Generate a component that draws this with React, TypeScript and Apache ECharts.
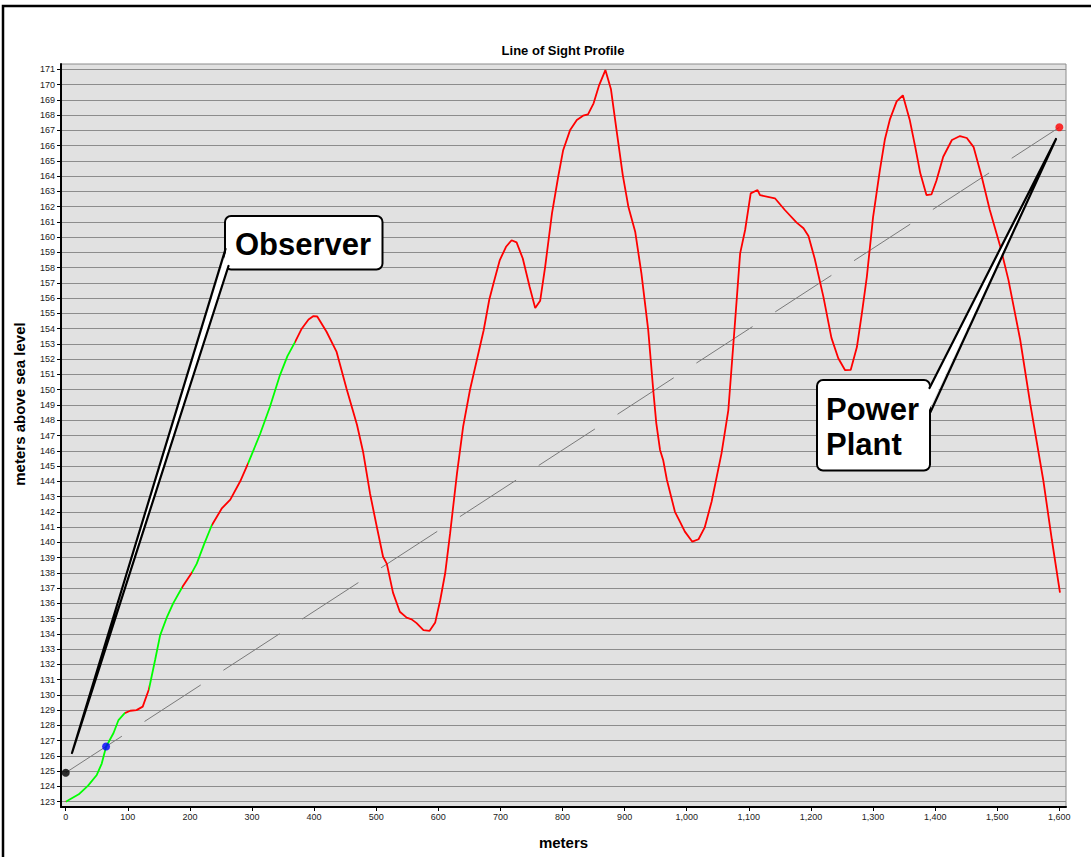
import React, { useEffect, useRef } from 'react';
import * as echarts from 'echarts';

// Terrain profile (distance in meters, elevation in meters above sea level)
const profileX = [
  0, 21, 36, 50, 58, 65, 77, 85, 95, 104, 114, 124, 134, 144, 152, 163, 173, 188, 203, 211, 223, 235,
  251, 265, 281, 294, 313, 329, 345, 357, 369, 380, 391, 399, 405, 420, 436, 452, 469, 479, 490, 501,
  511, 517, 527, 538, 549, 557, 565, 576, 586, 595, 603, 611, 619, 630, 640, 651, 662, 673, 682, 689,
  699, 709, 718, 726, 736, 747, 756, 764, 772, 783, 793, 801, 812, 823, 833, 841, 850, 859, 869, 878,
  887, 897, 906, 917, 927, 938, 946, 951, 957, 962, 968, 976, 981, 989, 997, 1009, 1019, 1029, 1040,
  1056, 1067, 1078, 1086, 1094, 1103, 1114, 1118, 1142, 1158, 1177, 1188, 1196, 1206, 1220, 1233,
  1244, 1255, 1264, 1274, 1282, 1290, 1300, 1311, 1319, 1327, 1338, 1348, 1359, 1368, 1376, 1386,
  1394, 1402, 1413, 1427, 1440, 1451, 1462, 1475, 1488, 1505, 1518, 1537, 1553, 1574, 1588, 1601,
];
const profileY = [
  123.0, 123.48, 124.05, 124.75, 125.5, 126.6, 127.5, 128.35, 128.8, 128.96, 129.0, 129.23, 130.37,
  132.3, 133.9, 135.1, 136.0, 137.09, 138.0, 138.6, 139.9, 141.1,
  142.2, 142.8, 144.0, 145.2, 147.1, 148.9, 150.96, 152.2, 153.1, 154.0, 154.6, 154.83, 154.8, 153.8,
  152.5, 150.1, 147.7, 145.9, 143.2, 141.0,
  139.05, 138.6, 136.7, 135.45, 135.06, 134.95, 134.7, 134.25, 134.2, 134.75, 136.2, 137.97, 140.6,
  144.5, 147.6, 150.0, 151.95, 153.9, 155.9, 157.0,
  158.5, 159.37, 159.8, 159.66, 158.6, 156.75, 155.35, 155.84, 158.06, 161.56, 163.96, 165.7, 167.0,
  167.68, 167.96, 168.05, 168.77, 169.97, 170.95, 169.69,
  167.0, 164.07, 162.0, 160.36, 157.63, 153.9, 150.0, 147.8, 146.05, 145.4, 144.1, 142.8, 142.0,
  141.35, 140.7, 140.04, 140.2, 140.98, 142.66,
  145.83, 148.67, 154.57, 158.94, 160.47, 162.87, 163.09, 162.75, 162.55, 161.78, 160.95, 160.58,
  160.08, 158.6, 156.1, 153.4,
  152.06, 151.28, 151.3, 152.8, 155.0, 157.4, 161.3, 164.4, 166.4, 167.7, 168.9, 169.3, 167.7, 165.9,
  164.2, 162.76,
  162.8, 163.7, 165.27, 166.37, 166.63, 166.5, 165.9, 163.96, 161.78, 159.37, 157.2, 153.26, 149.1,
  144.1, 140.15, 136.7,
];

// Stretches of terrain visible from the observer (distance ranges, meters)
const visibleRanges: [number, number][] = [
  [0, 95],
  [134, 188],
  [203, 235],
  [294, 369],
];

const observerPoint: [number, number] = [0, 124.9];
const intersectionPoint: [number, number] = [65, 126.62];
const targetPoint: [number, number] = [1600, 167.2];

const xTicks = [0, 100, 200, 300, 400, 500, 600, 700, 800, 900, 1000, 1100, 1200, 1300, 1400, 1500, 1600];
const yTicks = [
  123, 124, 125, 126, 127, 128, 129, 130, 131, 132, 133, 134, 135, 136, 137, 138, 139, 140, 141, 142,
  143, 144, 145, 146, 147, 148, 149, 150, 151, 152, 153, 154, 155, 156, 157, 158, 159, 160, 161, 162,
  163, 164, 165, 166, 167, 168, 169, 170, 171,
];

const chartTitle = 'Line of Sight Profile';
const xAxisName = 'meters';
const yAxisName = 'meters above sea level';
const observerLabel = 'Observer';
const plantLabelLines = ['Power', 'Plant'];

const FONT = '"Liberation Sans", Arial, Helvetica, sans-serif';

export default function App() {
  const ref = useRef<HTMLDivElement>(null);

  useEffect(() => {
    if (!ref.current) return;
    const chart = echarts.init(ref.current, null, { renderer: 'svg' });

    const profile = profileX.map((x, i) => [x, profileY[i]]);

    const option: any = {
      animation: false,
      backgroundColor: '#ffffff',
      title: {
        text: chartTitle,
        left: 563,
        textAlign: 'center',
        top: 44,
        padding: 0,
        textStyle: { fontFamily: FONT, fontSize: 13, fontWeight: 'bold', color: '#000' },
      },
      grid: {
        left: 61,
        right: 25,
        top: 64,
        bottom: 50,
        show: true,
        backgroundColor: '#e1e1e1',
        borderColor: '#8c8c8c',
        borderWidth: 1,
        outerBoundsMode: 'none',
        containLabel: false,
      },
      xAxis: {
        type: 'value',
        min: -7.6,
        max: 1610.7,
        name: xAxisName,
        nameLocation: 'middle',
        nameGap: 28,
        nameTextStyle: { fontFamily: FONT, fontSize: 15, fontWeight: 'bold', color: '#000' },
        axisLine: { show: true, onZero: false, lineStyle: { color: '#000', width: 2 } },
        axisTick: { show: true, customValues: xTicks, length: 4, lineStyle: { color: '#000', width: 1 } },
        axisLabel: {
          customValues: xTicks,
          formatter: (v: number) => v.toLocaleString('en-US'),
          fontFamily: FONT,
          fontSize: 9,
          color: '#222',
          margin: 5,
        },
        splitLine: { show: false },
      },
      yAxis: {
        type: 'value',
        min: 122.65,
        max: 171.35,
        axisLine: { show: true, onZero: false, lineStyle: { color: '#000', width: 2 } },
        axisTick: { show: true, customValues: yTicks, length: 4, lineStyle: { color: '#000', width: 1 } },
        axisLabel: { customValues: yTicks, fontFamily: FONT, fontSize: 9, color: '#222', margin: 6 },
        splitLine: { show: true, lineStyle: { color: '#8c8c8c', width: 1 } },
      },
      visualMap: {
        type: 'piecewise',
        show: false,
        seriesIndex: 0,
        dimension: 0,
        pieces: visibleRanges.map(([a, b]) => ({ gte: a, lte: b, color: '#00ff00' })),
        outOfRange: { color: '#ff0000' },
      },
      series: [
        {
          type: 'line',
          data: profile,
          showSymbol: false,
          symbol: 'none',
          lineStyle: { width: 1.8 },
          z: 3,
        },
        {
          type: 'line',
          data: [observerPoint, targetPoint],
          showSymbol: false,
          symbol: 'none',
          lineStyle: { color: '#7a7a7a', width: 1, type: [67, 27] },
          z: 2,
        },
        {
          type: 'scatter',
          data: [observerPoint],
          symbolSize: 8,
          itemStyle: { color: '#000000' },
          z: 4,
        },
        {
          type: 'scatter',
          data: [intersectionPoint],
          symbolSize: 8,
          itemStyle: { color: '#0000ff' },
          z: 4,
        },
        {
          type: 'scatter',
          data: [targetPoint],
          symbolSize: 8,
          itemStyle: { color: '#ff0000' },
          z: 4,
        },
      ],
      graphic: [
        {
          type: 'rect',
          z: 100,
          silent: true,
          shape: { x: 3, y: 6, width: 1300, height: 1000 },
          style: { fill: 'none', stroke: '#000', lineWidth: 2.5 },
        },
        // y-axis title
        {
          type: 'text',
          z: 100,
          x: 19,
          y: 404,
          rotation: Math.PI / 2,
          style: {
            text: yAxisName,
            fontFamily: FONT,
            fontSize: 15,
            fontWeight: 'bold',
            fill: '#000',
            align: 'center',
            verticalAlign: 'middle',
          },
        },
        // Observer callout
        {
          type: 'rect',
          z: 100,
          shape: { x: 225, y: 216, width: 157.5, height: 53.5, r: 6 },
          style: { fill: '#fff', stroke: '#000', lineWidth: 2 },
        },
        {
          type: 'polygon',
          z: 101,
          shape: { points: [[227, 249], [229.5, 264], [72, 753]] },
          style: { fill: '#fff', stroke: 'none' },
        },
        {
          type: 'polyline',
          z: 102,
          shape: { points: [[225.5, 249], [72, 753], [228.5, 266]] },
          style: { stroke: '#000', lineWidth: 2.2, fill: 'none', lineJoin: 'round', lineCap: 'round' },
        },
        {
          type: 'text',
          z: 103,
          x: 303,
          y: 244,
          style: {
            text: observerLabel,
            fontFamily: FONT,
            fontSize: 31,
            fontWeight: 'bold',
            fill: '#000',
            align: 'center',
            verticalAlign: 'middle',
          },
        },
        // Power Plant callout
        {
          type: 'rect',
          z: 100,
          shape: { x: 817, y: 380, width: 113, height: 90.5, r: 6 },
          style: { fill: '#fff', stroke: '#000', lineWidth: 2 },
        },
        {
          type: 'polygon',
          z: 101,
          shape: { points: [[928, 389], [928.5, 411], [1056, 139]] },
          style: { fill: '#fff', stroke: 'none' },
        },
        {
          type: 'polyline',
          z: 102,
          shape: { points: [[929.5, 388], [1056, 139], [930.5, 412]] },
          style: { stroke: '#000', lineWidth: 2.2, fill: 'none', lineJoin: 'round', lineCap: 'round' },
        },
        {
          type: 'text',
          z: 103,
          x: 826,
          y: 409,
          style: {
            text: plantLabelLines[0],
            fontFamily: FONT,
            fontSize: 31,
            fontWeight: 'bold',
            fill: '#000',
            align: 'left',
            verticalAlign: 'middle',
          },
        },
        {
          type: 'text',
          z: 103,
          x: 826,
          y: 444,
          style: {
            text: plantLabelLines[1],
            fontFamily: FONT,
            fontSize: 31,
            fontWeight: 'bold',
            fill: '#000',
            align: 'left',
            verticalAlign: 'middle',
          },
        },
      ],
    };

    chart.setOption(option);
    return () => {
      chart.dispose();
    };
  }, []);

  return (
    <div
      ref={ref}
      style={{ position: 'fixed', left: 0, top: 0, width: 1091, height: 857, background: '#fff' }}
    />
  );
}
